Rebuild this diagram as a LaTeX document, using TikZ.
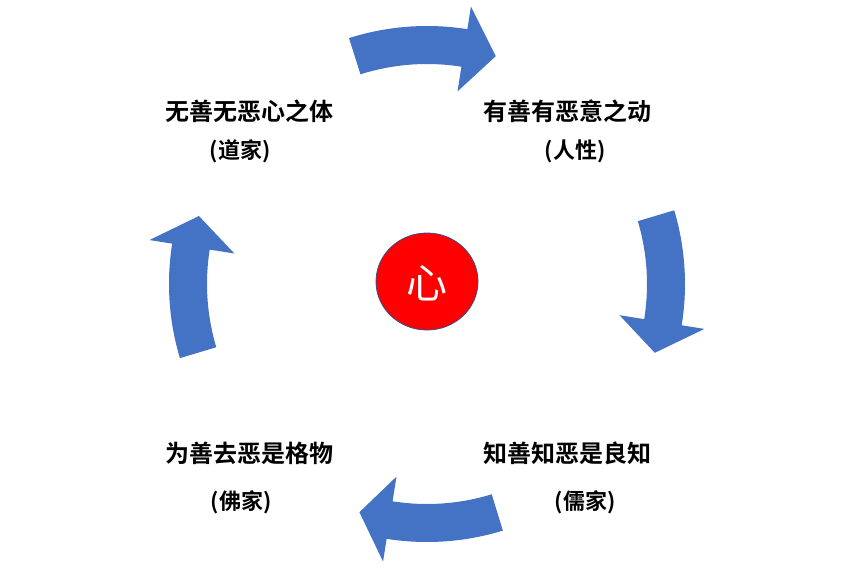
\documentclass[tikz,border=0pt]{standalone}
\usepackage{fontspec}
\usetikzlibrary{shapes.geometric}
\newfontfamily\cjk{Noto Sans CJK SC}[BoldFont={Noto Sans CJK SC Bold}]
\definecolor{arrowblue}{HTML}{4472C4}
\definecolor{ringblue}{HTML}{2F528F}
% #1 tail angle, #2 head base angle, #3 tip angle
\newcommand{\ringarrow}[3]{%
  \fill[bigarrow] (#1:258) arc[start angle=#1, end angle=#2, radius=258]
    -- (#2:281) -- (#3:238) -- (#2:195) -- (#2:220)
    arc[start angle=#2, end angle=#1, radius=220] -- cycle;}
\begin{document}
\begin{tikzpicture}[x=1pt,y=-1pt,
  bigarrow/.style={fill=arrowblue,draw=none},
  maintext/.style={font=\cjk\bfseries\fontsize{24}{28}\selectfont,text=black,inner sep=0pt},
  subtext/.style={font=\cjk\bfseries\fontsize{22}{26}\selectfont,text=black,inner sep=0pt}]
\useasboundingbox (0,0) rectangle (854,568);
\begin{scope}[shift={(427,284)}]
  \ringarrow{-107.6}{-81}{-73.2}
  \ringarrow{-16.6}{9.2}{16.8}
  \ringarrow{72.9}{99}{106.5}
  \ringarrow{163.3}{189}{196.6}
\end{scope}
% center
\node[ellipse,minimum width=102pt,minimum height=97pt,fill=red,draw=ringblue,line width=0.8pt,inner sep=0pt] (xin) at (427,281.5) {};
\node[font=\cjk\fontsize{41}{45}\selectfont,text=white,inner sep=0pt] (xinlabel) at (427,283) {心};
% labels
\node[maintext] (tl) at (249,111) {无善无恶心之体};
\node[subtext] (tlsub) at (240,151) {(道家)};
\node[maintext] (tr) at (567,111) {有善有恶意之动};
\node[subtext] (trsub) at (575,151) {(人性)};
\node[maintext] (bl) at (249,453) {为善去恶是格物};
\node[subtext] (blsub) at (241,502) {(佛家)};
\node[maintext] (br) at (567,453) {知善知恶是良知};
\node[subtext] (brsub) at (585,502) {(儒家)};
\end{tikzpicture}
\end{document}
